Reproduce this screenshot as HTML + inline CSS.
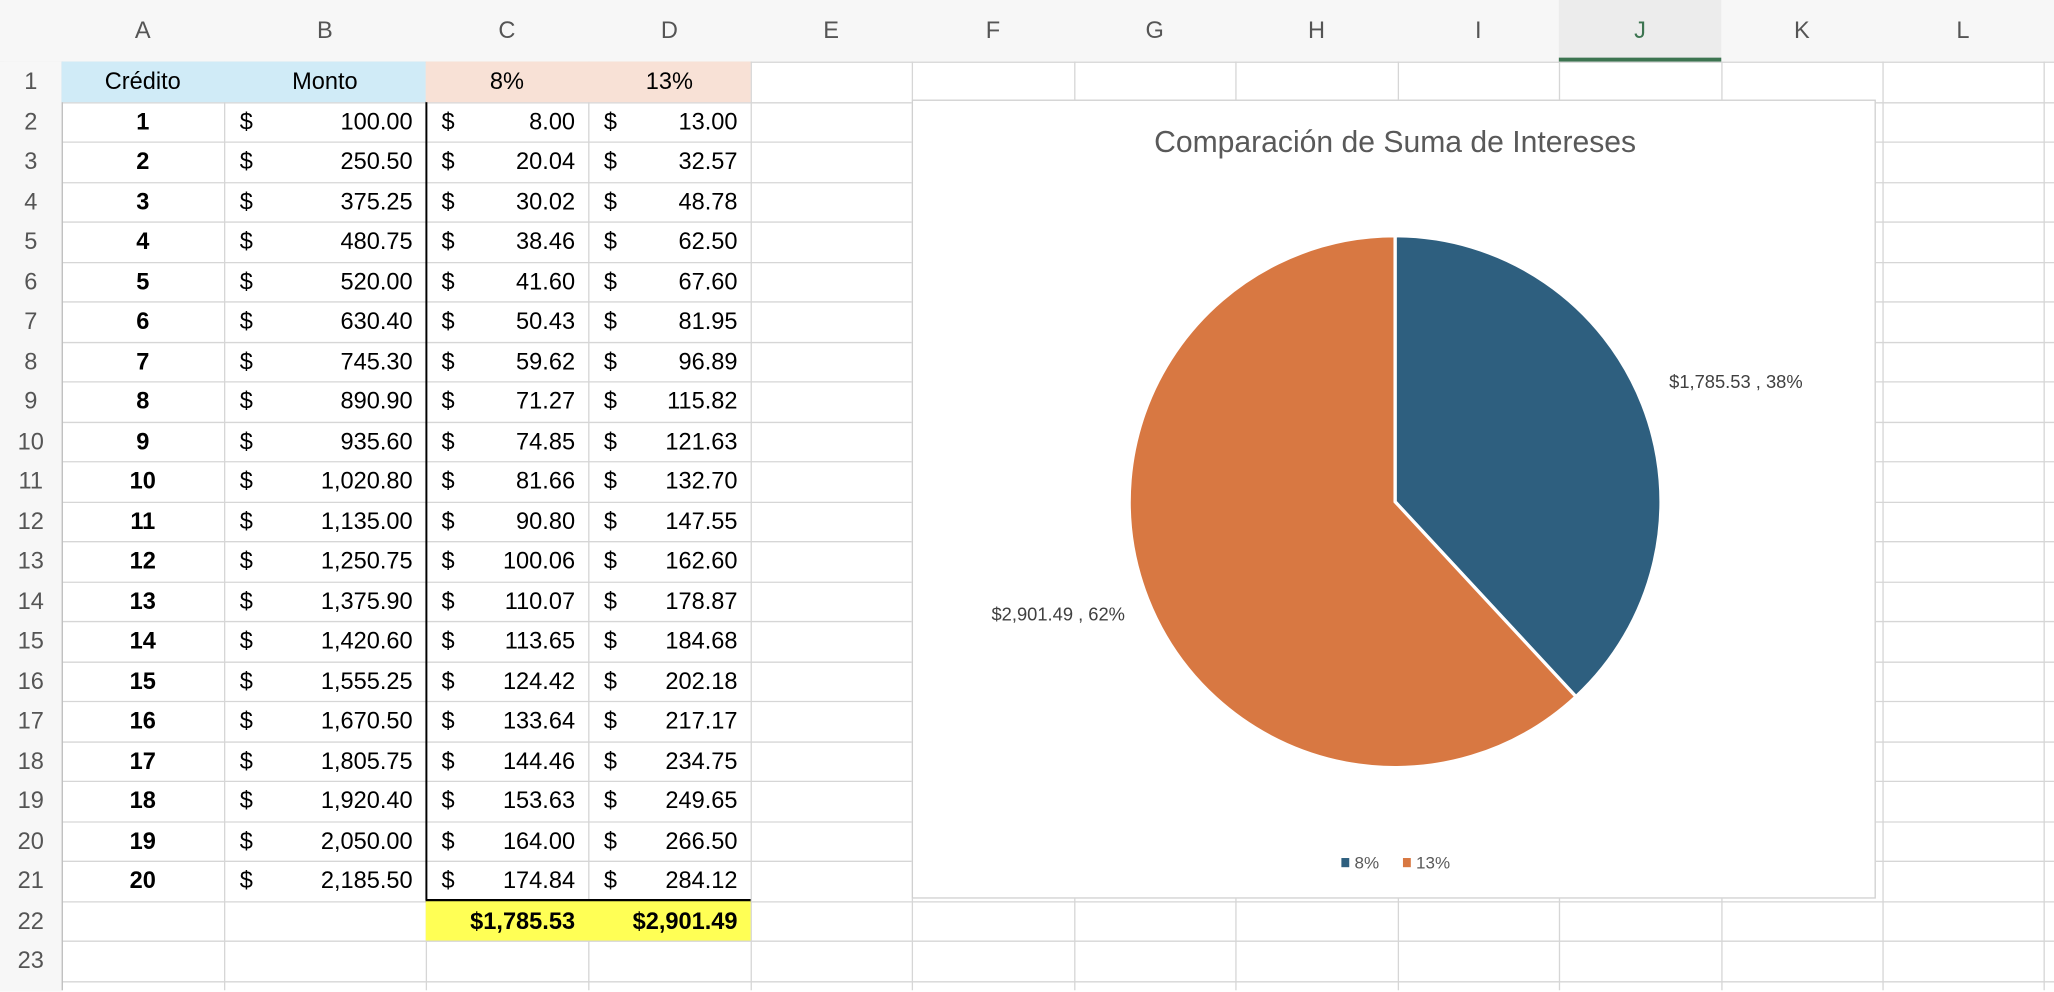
<!DOCTYPE html>
<html><head><meta charset="utf-8">
<style>
html,body{margin:0;padding:0;background:#fff;overflow:hidden;width:2054px;height:990px}
#wrap{position:absolute;left:0;top:0;width:1568px;height:756px;transform:scale(1.30995);transform-origin:0 0;font-family:"Liberation Sans Narrow","Liberation Sans",sans-serif;}
.c{position:absolute;box-sizing:border-box;font-size:18px;line-height:30px;white-space:nowrap}
</style></head><body>
<div id="wrap">
<svg id="grid" width="1568" height="756" style="position:absolute;left:0;top:0"></svg>
<div id="cells"></div>
<div id="chart" style="position:absolute;left:696px;top:76px;width:736px;height:610px;background:#fff;border:1px solid #d0d0d0;box-sizing:border-box">
<svg id="pie" width="736" height="610"></svg>
</div>
</div>
<script>
const colsX=[0,47,171,325,449,573,696,820,943,1067,1190,1314,1437,1560,1568];
const colNames=['A','B','C','D','E','F','G','H','I','J','K','L'];
const montos=['100.00','250.50','375.25','480.75','520.00','630.40','745.30','890.90','935.60','1,020.80','1,135.00','1,250.75','1,375.90','1,420.60','1,555.25','1,670.50','1,805.75','1,920.40','2,050.00','2,185.50'];
const int8=['8.00','20.04','30.02','38.46','41.60','50.43','59.62','71.27','74.85','81.66','90.80','100.06','110.07','113.65','124.42','133.64','144.46','153.63','164.00','174.84'];
const int13=['13.00','32.57','48.78','62.50','67.60','81.95','96.89','115.82','121.63','132.70','147.55','162.60','178.87','184.68','202.18','217.17','234.75','249.65','266.50','284.12'];
const pieLabels=['8%','13%'];
const pieValues=[1785.53,2901.49];
const pieTexts=['$1,785.53 , 38%','$2,901.49 , 62%'];
const pieColors=['#2e5f7f','#d87842'];

const HDR=47, RH=30.5;
const rowTop=r=>HDR+(r-1)*RH;
const C=document.getElementById('cells');
function cell(x,y,w,h,txt,style){const d=document.createElement('div');d.className='c';d.style.left=x+'px';d.style.top=y+'px';d.style.width=w+'px';d.style.height=h+'px';d.style.lineHeight=h+'px';if(style)d.style.cssText+=style;d.textContent=txt;C.appendChild(d);return d;}
let hb=cell(0,0,1568,HDR,'','background:#f7f7f7');


let rb=cell(0,HDR,47,710,'','background:#f7f7f7');


let jh=cell(colsX[10],0,colsX[11]-colsX[10],HDR,'','background:#ececec;border-bottom:3px solid #3c7450');


let f1=cell(47,HDR,278,RH,'','background:#d0ebf7');


let f2=cell(325,HDR,248,RH,'','background:#f8e1d6');


let f3=cell(325,rowTop(22),248,RH,'','background:#ffff55');


const g=document.getElementById('grid');let gs='';
for(let i=1;i<colsX.length-1;i++)gs+=`<line x1="${colsX[i]+.5}" y1="0" x2="${colsX[i]+.5}" y2="756" stroke="#d6d6d6"/>`;
for(let r=1;r<=24;r++){const y=Math.round(rowTop(r))+.5;gs+=`<line x1="0" y1="${y}" x2="1568" y2="${y}" stroke="#d6d6d6"/>`;}
gs+=`<line x1="0" y1="46.5" x2="1568" y2="46.5" stroke="#bdbdbd"/><line x1="47.5" y1="0" x2="47.5" y2="756" stroke="#bdbdbd"/>`;
gs+=`<rect x="0" y="0" width="3" height="756" fill="#cfcfcf"/>`;
gs+=`<polygon points="10,40 42,40 42,8" fill="#d4d4d4"/>`;
gs+=`<line x1="325.5" y1="${rowTop(2)}" x2="325.5" y2="${rowTop(22)}" stroke="#000" stroke-width="1.5"/>`;
gs+=`<line x1="325" y1="${rowTop(22)}" x2="573" y2="${rowTop(22)}" stroke="#000" stroke-width="2.5"/>`;
g.innerHTML=gs;
colNames.forEach((n,i)=>{const d=cell(colsX[i+1],0,colsX[i+2]-colsX[i+1],HDR,n,'text-align:center;color:'+(n==='J'?'#3c7450':'#555')+';font-size:18px;font-family:"Liberation Sans",sans-serif');

});
for(let r=1;r<=23;r++){const d=cell(0,rowTop(r),47,RH,String(r),'text-align:center;color:#555;font-family:"Liberation Sans",sans-serif');

}
const hdrs=[['Crédito',47,124],['Monto',171,154],['8%',325,124],['13%',449,124]];
hdrs.forEach(h=>{const d=cell(h[1],rowTop(1),h[2],RH,h[0],'text-align:center');

});
function money(x,w,y,v){const d1=cell(x+12,y,20,RH,'$','');


const d2=cell(x,y,w-10,RH,v,'text-align:right');

}
for(let i=0;i<20;i++){const y=rowTop(i+2);
const d=cell(47,y,124,RH,String(i+1),'text-align:center;font-weight:bold');


money(171,154,y,montos[i]);money(325,124,y,int8[i]);money(449,124,y,int13[i]);}
const t1=cell(325,rowTop(22),124-10,RH,'$1,785.53','text-align:right;font-weight:bold');


const t2=cell(449,rowTop(22),124-10,RH,'$2,901.49','text-align:right;font-weight:bold');


const P=document.getElementById('pie');const NS='http://www.w3.org/2000/svg';
function el(t,a){const e=document.createElementNS(NS,t);for(const k in a)e.setAttribute(k,a[k]);P.appendChild(e);return e;}
const ti=el('text',{x:368,y:39,'text-anchor':'middle','font-size':'23','fill':'#595959','font-family':'Liberation Sans Narrow, Liberation Sans, sans-serif'});ti.textContent='Comparación de Suma de Intereses';


const cx=368,cy=306,R=203;const tot=pieValues.reduce((a,b)=>a+b,0);let a0=0;
pieValues.forEach((v,i)=>{const a1=a0+v/tot*2*Math.PI;
const x0=cx+R*Math.sin(a0),y0=cy-R*Math.cos(a0),x1=cx+R*Math.sin(a1),y1=cy-R*Math.cos(a1);
const s=el('path',{d:`M${cx},${cy}L${x0},${y0}A${R},${R} 0 ${a1-a0>Math.PI?1:0} 1 ${x1},${y1}Z`,fill:pieColors[i],stroke:'#fff','stroke-width':2.5});


const m=(a0+a1)/2;const lx=cx+(R+40)*Math.sin(m),ly=cy-(R+40)*Math.cos(m);
const t=el('text',{x:Math.sin(m)>0?lx-17:lx+20,y:ly+2,'text-anchor':Math.sin(m)>0?'start':'end','font-size':'14','fill':'#404040','font-family':'Liberation Sans, sans-serif'});t.textContent=pieTexts[i];


a0=a1;});
let lxp=327;
pieLabels.forEach((l,i)=>{const r=el('rect',{x:lxp,y:578,width:6,height:7,fill:pieColors[i]});


const t=el('text',{x:lxp+10,y:586,'font-size':'13','fill':'#595959','font-family':'Liberation Sans, sans-serif'});t.textContent=l;


lxp+=47;});
</script>
</body></html>
